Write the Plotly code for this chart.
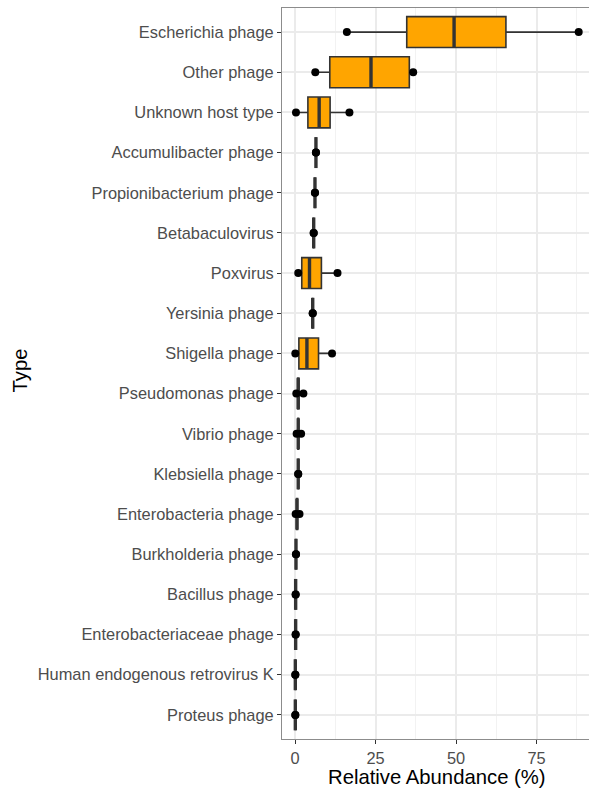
import plotly.graph_objects as go

categories = ["Escherichia phage", "Other phage", "Unknown host type", "Accumulibacter phage",
              "Propionibacterium phage", "Betabaculovirus", "Poxvirus", "Yersinia phage",
              "Shigella phage", "Pseudomonas phage", "Vibrio phage", "Klebsiella phage",
              "Enterobacteria phage", "Burkholderia phage", "Bacillus phage",
              "Enterobacteriaceae phage", "Human endogenous retrovirus K", "Proteus phage"]
min_vals = [16.1, 6.3, 0.3, 6.5, 6.2, 5.8, 1.0, 5.5, 0.1, 0.4, 0.5, 1.0, 0.2, 0.3, 0.2, 0.2, 0.1, 0.1]
q1_vals = [34.7, 10.8, 4.0, 6.5, 6.2, 5.8, 2.1, 5.5, 1.2, 0.8, 0.9, 1.0, 0.5, 0.3, 0.2, 0.2, 0.1, 0.1]
med_vals = [49.4, 23.6, 7.5, 6.5, 6.2, 5.8, 4.5, 5.5, 3.7, 1.0, 1.0, 1.0, 0.6, 0.3, 0.2, 0.2, 0.1, 0.1]
q3_vals = [65.5, 35.5, 10.9, 6.5, 6.2, 5.8, 8.2, 5.5, 7.3, 1.2, 1.1, 1.0, 0.8, 0.3, 0.2, 0.2, 0.1, 0.1]
max_vals = [88.1, 36.7, 16.9, 6.5, 6.2, 5.8, 13.2, 5.5, 11.5, 2.6, 1.9, 1.0, 1.4, 0.3, 0.2, 0.2, 0.1, 0.1]
x_ticks = [0, 25, 50, 75]

pos = list(range(len(categories)))
half = 0.385

fig = go.Figure()
fig.add_trace(go.Box(
    orientation="h", y=pos, q1=q1_vals, median=med_vals, q3=q3_vals,
    lowerfence=min_vals, upperfence=max_vals,
    fillcolor="#FFA500", line=dict(color="#333333", width=1.6),
    whiskerwidth=0, width=2 * half, boxpoints=False, showlegend=False, hoverinfo="skip"))

mx, my = [], []
for p, m in zip(pos, med_vals):
    mx += [m, m, None]
    my += [p - half, p + half, None]
fig.add_trace(go.Scatter(x=mx, y=my, mode="lines", line=dict(color="#333333", width=3.4),
                         showlegend=False, hoverinfo="skip"))

fig.add_trace(go.Scatter(x=min_vals + max_vals, y=pos + pos, mode="markers",
                         marker=dict(color="black", size=8), showlegend=False, hoverinfo="skip",
                         cliponaxis=False))

font = "Liberation Sans, Arial, sans-serif"
fig.update_layout(
    width=589, height=792,
    margin=dict(l=281.5, r=0, t=7.5, b=53),
    paper_bgcolor="white", plot_bgcolor="white",
    font=dict(family=font, size=16.4, color="#4D4D4D"),
    xaxis=dict(range=[-4.04, 91.3], tickvals=x_ticks, ticktext=[str(v) for v in x_ticks],
               showgrid=True, gridcolor="#EBEBEB", gridwidth=1.5,
               minor=dict(tickvals=[12.5, 37.5, 62.5, 87.5], showgrid=True, gridcolor="#F2F2F2", gridwidth=1),
               zeroline=False, showline=True, linecolor="#8C8C8C", linewidth=1, mirror=True,
               ticks="outside", ticklen=4, tickcolor="#333333", tickwidth=1,
               tickfont=dict(size=16.4, color="#4D4D4D")),
    yaxis=dict(range=[17.6, -0.6], tickvals=pos, ticktext=categories,
               showgrid=True, gridcolor="#EBEBEB", gridwidth=1.5, zeroline=False,
               showline=True, linecolor="#8C8C8C", linewidth=1,
               ticks="outside", ticklen=4, tickcolor="#333333", tickwidth=1,
               tickfont=dict(size=16.4, color="#4D4D4D")),
    annotations=[
        dict(text="Relative Abundance (%)", xref="paper", yref="paper", x=0.5, y=0,
             xanchor="center", yanchor="middle", yshift=-38, xshift=1, showarrow=False,
             font=dict(size=20.3, color="black", family=font)),
        dict(text="Type", xref="paper", yref="paper", x=0, y=0.5, xanchor="center",
             yanchor="middle", xshift=-263, yshift=3, textangle=-90, showarrow=False,
             font=dict(size=20.3, color="black", family=font)),
    ],
)
fig.write_html("out.html", config={"displayModeBar": False},
               post_script="document.body.style.margin='0px';")
